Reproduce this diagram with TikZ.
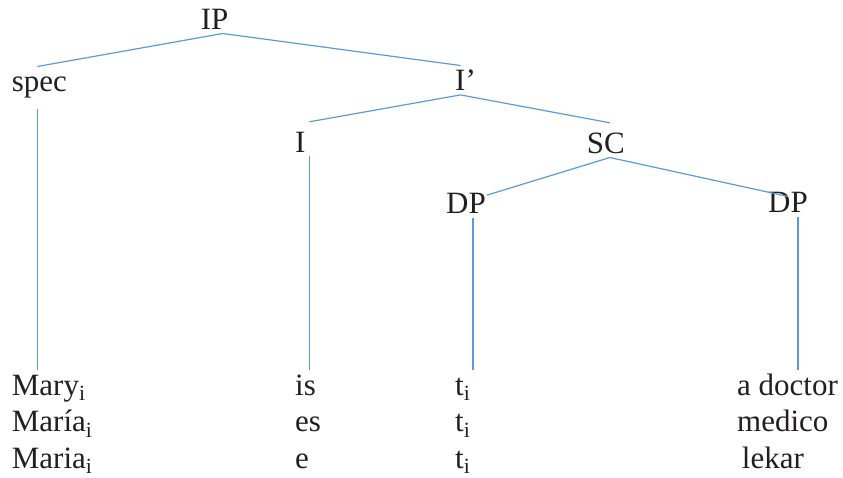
\documentclass[tikz,border=0pt]{standalone}
\usepackage{fontspec}
\setmainfont{Liberation Serif}
\usepackage{xcolor}
\definecolor{branchblue}{RGB}{91, 155, 213}
\definecolor{ink}{RGB}{35, 31, 32}

\begin{document}
\begin{tikzpicture}[
    x=1pt, y=-1pt,
    cat/.style={anchor=base west, inner sep=4pt, text height=21pt,
                font=\fontsize{31}{37}\selectfont, text=ink},
    word/.style={cat},
    branch/.style={draw=branchblue, line width=1.2pt},
]
\useasboundingbox (0,0) rectangle (843,477);

% tree
\node[cat] (ip)   at (196.7, 29.3)  {IP};
\node[cat] (spec) at (7.7, 91.7)    {spec};
\node[cat] (ibar) at (451, 90.7)    {I’};
\node[cat] (infl) at (291, 152)     {I};
\node[cat] (sc)   at (582.7, 153)   {SC};
\node[cat] (dpl)  at (442, 213.3)   {DP};
\node[cat] (dpr)  at (764, 212.7)   {DP};

% sentences
\node[word] (subjEn) at (7.7, 395)   {Mary\textsubscript{i}};
\node[word] (copEn)  at (291, 395)   {is};
\node[word] (trEn)   at (451, 395)   {t\textsubscript{i}};
\node[word] (predEn) at (733, 395)   {a doctor};

\node[word] (subjEs) at (7.7, 431.7) {María\textsubscript{i}};
\node[word] (copEs)  at (291, 431.7) {es};
\node[word] (trEs)   at (451, 431.7) {t\textsubscript{i}};
\node[word] (predEs) at (733, 431.7) {medico};

\node[word] (subjMk) at (7.7, 468)   {Maria\textsubscript{i}};
\node[word] (copMk)  at (291, 468)   {e};
\node[word] (trMk)   at (451, 468)   {t\textsubscript{i}};
\node[word] (predMk) at (737.7, 468) {lekar};

% branches
\draw[branch] ([xshift=8pt]ip.south) -- ([xshift=-2pt]spec.north);
\draw[branch] ([xshift=8pt]ip.south) -- ([xshift=-5pt]ibar.north);
\draw[branch] ([xshift=-5pt]ibar.south) -- ([xshift=9pt, yshift=5pt]infl.north);
\draw[branch] ([xshift=-5pt]ibar.south) -- ([xshift=4pt, yshift=5pt]sc.north);
\draw[branch] ([xshift=4pt]sc.south) -- ([xshift=-3pt, yshift=-7pt]dpl.north east);
\draw[branch] ([xshift=4pt]sc.south) -- ([yshift=-9pt]dpr.north);

\draw[branch] ([xshift=-2pt, yshift=-6pt]spec.south) -- ([xshift=-2pt]spec.south |- subjEn.north);
\draw[branch] ([xshift=9pt]infl.south) -- ([xshift=9pt]infl.south |- copEn.north);
\draw[branch] ([xshift=7pt]dpl.south) -- ([xshift=7pt]dpl.south |- trEn.north);
\draw[branch] ([xshift=10pt]dpr.south) -- ([xshift=10pt]dpr.south |- predEn.north);

\end{tikzpicture}
\end{document}
